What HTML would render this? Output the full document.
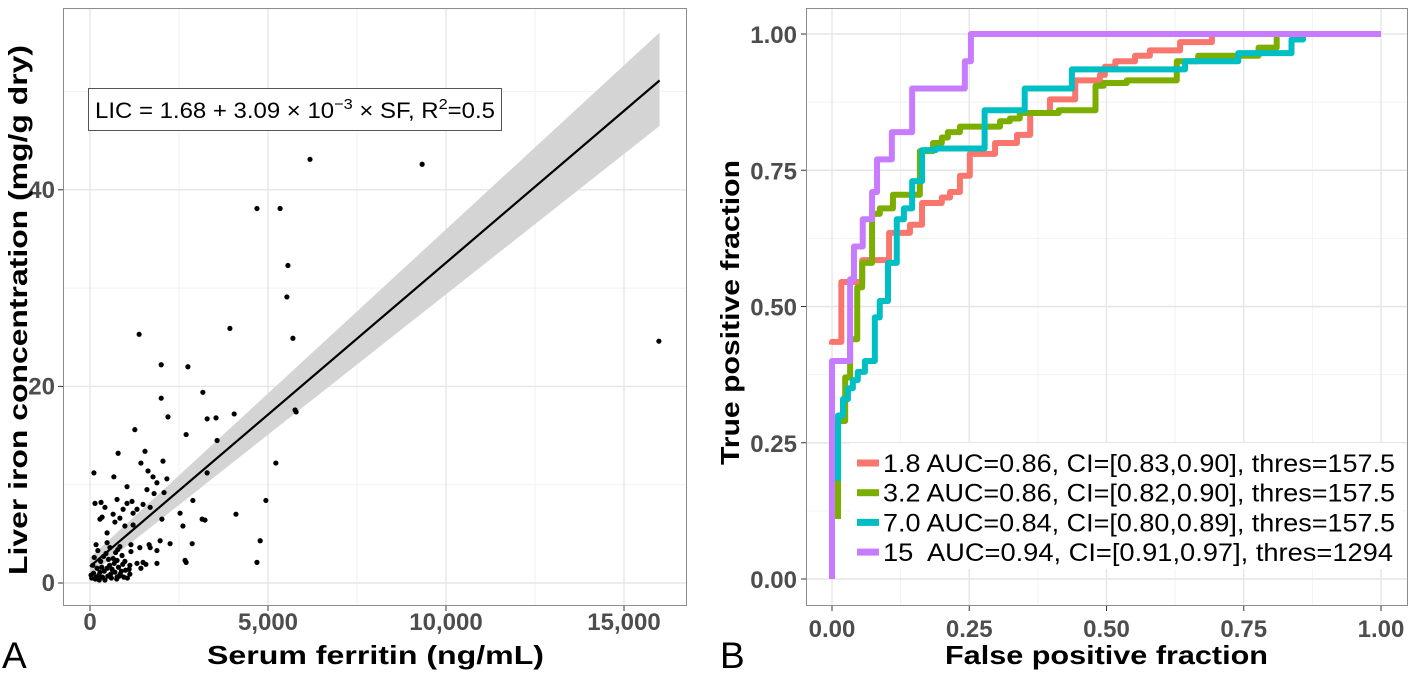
<!DOCTYPE html>
<html><head><meta charset="utf-8"><style>
body{margin:0;background:#fff;font-family:"Liberation Sans",sans-serif}
svg text{font-family:"Liberation Sans",sans-serif}
</style></head><body>
<svg id="c" width="1413" height="672" xmlns="http://www.w3.org/2000/svg"></svg>
<script>
// ---- Panel A data ----
const sfValues=[6180,9330,15980,4690,5340,5560,5530,5700,5760,3930,1380,2000,2750,3170,2000,3540,4050,1260,2190,3290,5790,2700,3570,790,1545,1430,2050,5220,110,670,1630,1770,1880,2160,3290,1040,1600,1800,2080,140,310,420,760,1040,1180,930,1320,1490,1690,2890,4940,340,650,840,280,1210,2530,2020,3150,3230,4100,700,980,2610,480,1210,170,480,840,1150,1400,1660,1970,2250,2870,4780,1150,1690,1880,2670,2700,4690,1120,1320,1490,1570,1880,1430,1120,760,50,100,150,200,250,300,350,400,450,500,550,600,650,700,750,800,850,900,950,1000,120,220,330,420,520,620,720,820,920,1050,80,180,280,380,480,580,680,780,880,980,30,260,560,760,1100];
const licValues=[43.1,42.6,24.6,38.1,38.1,32.3,29.1,24.9,17.6,25.9,25.3,22.2,22.0,19.4,18.8,16.8,17.2,15.6,16.9,16.7,17.4,15.1,14.5,13.2,13.4,12.2,12.4,12.2,11.2,10.8,11.4,10.8,10.2,10.6,11.2,9.8,9.5,9.1,9.2,8.1,8.2,7.7,8.5,8.1,8.3,7.5,7.5,8.0,7.7,8.4,8.4,6.7,7.0,6.6,6.5,7.1,7.1,6.5,6.5,6.4,7.0,6.2,5.8,5.8,5.1,5.9,3.9,4.1,3.7,3.9,3.6,3.9,4.3,4.0,4.0,4.3,3.2,3.6,3.3,2.3,2.1,2.1,1.8,2.0,2.1,1.9,2.0,1.5,0.9,0.6,0.5,1.0,0.4,1.5,0.8,2.2,0.6,1.2,3.0,0.7,1.8,0.5,2.5,1.1,0.4,1.6,0.9,2.8,0.6,1.3,2.6,3.3,1.6,0.3,2.4,1.4,3.1,0.7,1.9,0.5,1.8,0.6,1.1,2.7,1.5,0.9,2.0,3.4,1.2,2.2,0.8,0.3,3.6,2.3,1.4];
const fitIntercept=1.68, fitSlope=3.09e-3;
const bandX=[0,16000];
const bandUpper=[2.6,56.0];
const bandLower=[0.8,46.5];
const xTicksA=[0,5000,10000,15000];
const xTickLabelsA=["0","5,000","10,000","15,000"];
const yTicksA=[0,20,40];
// ---- Panel B data ----
const rocLabels=["1.8 AUC=0.86, CI=[0.83,0.90], thres=157.5","3.2 AUC=0.86, CI=[0.82,0.90], thres=157.5","7.0 AUC=0.84, CI=[0.80,0.89], thres=157.5","15  AUC=0.94, CI=[0.91,0.97], thres=1294"];
const rocColors=["#f8766d","#7cae00","#00bfc4","#c77cff"];
const fpr18=[0,0,0.017,0.055,0.104,0.142,0.164,0.2,0.215,0.233,0.251,0.297,0.337,0.361,0.397,0.443,0.488,0.497,0.516,0.552,0.579,0.634,0.692];
const tpr18=[0.43,0.435,0.545,0.585,0.635,0.65,0.69,0.70,0.71,0.74,0.78,0.80,0.815,0.855,0.88,0.915,0.925,0.94,0.95,0.96,0.97,0.985,1.0];
const fpr32=[0.011,0.011,0.024,0.033,0.046,0.055,0.073,0.087,0.111,0.16,0.184,0.2,0.211,0.233,0.306,0.324,0.342,0.413,0.48,0.495,0.537,0.628,0.667,0.777,0.81];
const tpr32=[0.11,0.29,0.37,0.44,0.535,0.58,0.67,0.68,0.705,0.785,0.80,0.81,0.82,0.83,0.84,0.845,0.855,0.86,0.905,0.91,0.915,0.95,0.96,0.975,1.0];
const fpr70=[0.011,0.011,0.02,0.029,0.038,0.047,0.06,0.078,0.087,0.102,0.118,0.131,0.146,0.164,0.173,0.189,0.215,0.278,0.351,0.437,0.643,0.74,0.837,0.858];
const tpr70=[0.18,0.30,0.33,0.35,0.365,0.38,0.40,0.48,0.51,0.58,0.66,0.68,0.73,0.787,0.787,0.79,0.79,0.86,0.90,0.935,0.95,0.965,0.99,1.0];
const fpr15=[0,0,0.033,0.04,0.056,0.073,0.082,0.109,0.146,0.242,0.253,1.0];
const tpr15=[0,0.40,0.55,0.61,0.66,0.71,0.77,0.82,0.90,0.95,1.0,1.0];
const xTicksB=[0,0.25,0.5,0.75,1];
const yTicksB=[0,0.25,0.5,0.75,1];

const NS="http://www.w3.org/2000/svg";
const svg=document.getElementById('c');
function mk(tag,attrs,parent){const e=document.createElementNS(NS,tag);for(const k in attrs)e.setAttribute(k,attrs[k]);(parent||svg).appendChild(e);return e;}
function txt(s,attrs){const e=mk('text',attrs);e.textContent=s;return e;}

// Panel A scales
const axA=v=>90+v*178/5000, ayA=v=>583-v*9.83;
let g=mk('g',{});


mk('rect',{x:63,y:8,width:624,height:598,fill:'#fff'},g);
[2500,7500,12500].forEach(v=>mk('line',{x1:axA(v),x2:axA(v),y1:8,y2:606,stroke:'#f2f2f2','stroke-width':1},g));
[10,30,50].forEach(v=>mk('line',{x1:63,x2:687,y1:ayA(v),y2:ayA(v),stroke:'#f2f2f2','stroke-width':1},g));
xTicksA.forEach(v=>mk('line',{x1:axA(v),x2:axA(v),y1:8,y2:606,stroke:'#e6e6e6','stroke-width':1.4},g));
yTicksA.forEach(v=>mk('line',{x1:63,x2:687,y1:ayA(v),y2:ayA(v),stroke:'#e6e6e6','stroke-width':1.4},g));
let band=mk('polygon',{points:`${axA(bandX[0])},${ayA(bandUpper[0])} ${axA(bandX[1])},${ayA(bandUpper[1])} ${axA(bandX[1])},${ayA(bandLower[1])} ${axA(bandX[0])},${ayA(bandLower[0])}`,fill:'#d4d4d4'});


sfValues.forEach((v,i)=>{const c=mk('circle',{cx:axA(v),cy:ayA(licValues[i]),r:2.6,fill:'#000'});

});
let fit=mk('line',{x1:axA(0),y1:ayA(fitIntercept),x2:axA(16000),y2:ayA(fitIntercept+fitSlope*16000),stroke:'#000','stroke-width':2.2});


let bA=mk('rect',{x:63.5,y:8.5,width:623,height:597,fill:'none',stroke:'#8c8c8c','stroke-width':1});


let ab=mk('rect',{x:88.5,y:88.5,width:413,height:42,fill:'#fff',stroke:'#555','stroke-width':1});


let at=txt('',{x:95,y:118,'font-size':22,fill:'#000',textLength:400,lengthAdjust:'spacingAndGlyphs'});
at.innerHTML='LIC = 1.68 + 3.09 × 10<tspan dy="-9" font-size="15">−3</tspan><tspan dy="9"> × SF, R</tspan><tspan dy="-9" font-size="15">2</tspan><tspan dy="9">=0.5</tspan>';


xTicksA.forEach((v,i)=>{mk('line',{x1:axA(v),x2:axA(v),y1:606,y2:611,stroke:'#333'});
const t=txt(xTickLabelsA[i],{x:axA(v),y:630,'text-anchor':'middle','font-size':24,'font-weight':'bold',fill:'#4d4d4d'});

});
yTicksA.forEach(v=>{mk('line',{x1:58,x2:63,y1:ayA(v),y2:ayA(v),stroke:'#333'});
const t=txt(String(v),{x:55,y:ayA(v)+8,'text-anchor':'end','font-size':24,'font-weight':'bold',fill:'#4d4d4d'});

});
let xtA=txt('Serum ferritin (ng/mL)',{x:207,y:664,'font-size':26,'font-weight':'bold',textLength:337,lengthAdjust:'spacingAndGlyphs'});


let ytA=txt('Liver iron concentration (mg/g dry)',{x:0,y:0,'font-size':26,'font-weight':'bold',textLength:530,lengthAdjust:'spacingAndGlyphs',transform:'translate(27,575) rotate(-90)'});


let la=txt('A',{x:2,y:668,'font-size':37});



// Panel B
const axB=v=>832+v*549, ayB=v=>579-v*545;
let gb=mk('g',{});


[0.125,0.375,0.625,0.875].forEach(v=>{mk('line',{x1:axB(v),x2:axB(v),y1:8,y2:606,stroke:'#f2f2f2'},gb);mk('line',{x1:806,x2:1408,y1:ayB(v),y2:ayB(v),stroke:'#f2f2f2'},gb);});
xTicksB.forEach(v=>mk('line',{x1:axB(v),x2:axB(v),y1:8,y2:606,stroke:'#e6e6e6','stroke-width':1.4},gb));
yTicksB.forEach(v=>mk('line',{x1:806,x2:1408,y1:ayB(v),y2:ayB(v),stroke:'#e6e6e6','stroke-width':1.4},gb));
const series=[[fpr18,tpr18],[fpr32,tpr32],[fpr70,tpr70],[fpr15,tpr15]];
const names=['roc-curve-1.8','roc-curve-3.2','roc-curve-7.0','roc-curve-15'];
series.forEach((s,k)=>{let d='';for(let i=0;i<s[0].length;i++){const x=axB(s[0][i]),y=ayB(s[1][i]);if(i==0)d+=`M${x},${ayB(s[1][0])}`;else d+=`H${x}V${y}`;}
const p=mk('path',{d:d,fill:'none',stroke:rocColors[k],'stroke-width':6,'stroke-linejoin':'round'});

});
let bB=mk('rect',{x:806.5,y:8.5,width:601,height:597,fill:'none',stroke:'#8c8c8c'});


xTicksB.forEach(v=>{mk('line',{x1:axB(v),x2:axB(v),y1:606,y2:611,stroke:'#333'});
const t=txt(v.toFixed(2),{x:axB(v),y:637,'text-anchor':'middle','font-size':24,'font-weight':'bold',fill:'#4d4d4d'});

});
yTicksB.forEach(v=>{mk('line',{x1:801,x2:806,y1:ayB(v),y2:ayB(v),stroke:'#333'});
const t=txt(v.toFixed(2),{x:797,y:ayB(v)+9,'text-anchor':'end','font-size':24,'font-weight':'bold',fill:'#4d4d4d'});

});
let xtB=txt('False positive fraction',{x:945,y:664,'font-size':26,'font-weight':'bold',textLength:323,lengthAdjust:'spacingAndGlyphs'});


let ytB=txt('True positive fraction',{x:0,y:0,'font-size':26,'font-weight':'bold',textLength:305,lengthAdjust:'spacingAndGlyphs',transform:'translate(739,465) rotate(-90)'});


let lb=txt('B',{x:720,y:668,'font-size':37});


let lg=mk('g',{});


mk('rect',{x:850,y:443,width:552,height:126,fill:'#fff'},lg);
const legLens=[512,512,512,510];
rocLabels.forEach((s,i)=>{const y=463+i*29.7;
const k=mk('rect',{x:857,y:y-3.5,width:22,height:7,fill:rocColors[i]},lg);


const t=txt(s,{x:883,y:y+9,'font-size':25,fill:'#000',textLength:legLens[i],lengthAdjust:'spacingAndGlyphs'});
t.style.whiteSpace='pre';


lg.appendChild(t);});
</script>
</body></html>
